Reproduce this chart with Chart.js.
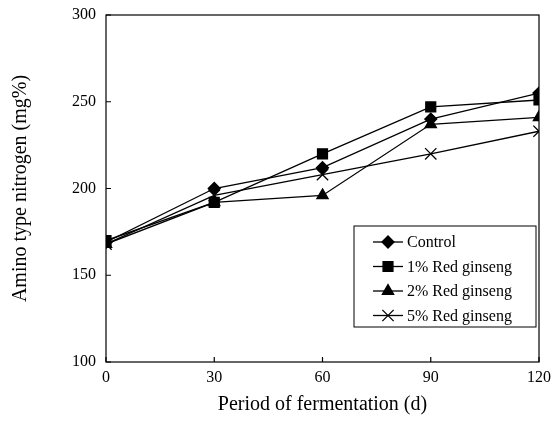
<!DOCTYPE html>
<html>
<head>
<meta charset="utf-8">
<script src="https://cdn.jsdelivr.net/npm/chart.js@4"></script>
<style>
  body { margin: 0; background: #fff; }
  #wrap { width: 554px; height: 437px; }
</style>
</head>
<body>
<div id="wrap"><canvas id="chart"></canvas></div>
<script>
const days = [0, 30, 60, 90, 120];
const seriesNames = ['Control', '1% Red ginseng', '2% Red ginseng', '5% Red ginseng'];
const control = [169, 200, 212, 240, 255];
const redGinseng1 = [170, 192, 220, 247, 251];
const redGinseng2 = [168, 192, 196, 237, 241];
const redGinseng5 = [168, 196, 208, 220, 233];
const yTicks = [100, 150, 200, 250, 300];

const serif = '"Liberation Serif", "Times New Roman", serif';

const styles = [
  { pointStyle: 'rectRot', pointRadius: 6 },
  { pointStyle: 'rect', pointRadius: 7 },
  { pointStyle: 'triangle', pointRadius: 6.5 },
  { pointStyle: 'crossRot', pointRadius: 8 }
];

const datasets = [control, redGinseng1, redGinseng2, redGinseng5].map((vals, i) => ({
  label: seriesNames[i],
  data: days.map((d, j) => ({ x: d, y: vals[j] })),
  borderColor: '#000',
  backgroundColor: '#000',
  borderWidth: 1.3,
  pointBorderWidth: 1.3,
  pointStyle: styles[i].pointStyle,
  pointRadius: styles[i].pointRadius,
  tension: 0
}));

// frame, inward ticks and the boxed legend
const framePlugin = {
  id: 'frame',
  afterDraw(chart) {
    const { ctx, chartArea: a, scales: { x, y } } = chart;
    ctx.save();
    ctx.strokeStyle = '#000';
    ctx.lineWidth = 1.2;
    ctx.strokeRect(a.left, a.top, a.right - a.left, a.bottom - a.top);
    ctx.beginPath();
    yTicks.forEach(v => {
      const py = y.getPixelForValue(v);
      ctx.moveTo(a.left, py);
      ctx.lineTo(a.left + 5, py);
    });
    days.forEach(v => {
      const px = x.getPixelForValue(v);
      ctx.moveTo(px, a.bottom);
      ctx.lineTo(px, a.bottom - 5);
    });
    ctx.stroke();

    // legend
    const box = { left: a.right - 185, top: a.bottom - 136, w: 182, h: 101 };
    ctx.fillStyle = '#fff';
    ctx.fillRect(box.left, box.top, box.w, box.h);
    ctx.lineWidth = 1;
    ctx.strokeRect(box.left, box.top, box.w, box.h);
    ctx.font = '16px ' + serif;
    ctx.textBaseline = 'middle';
    chart.data.datasets.forEach((ds, i) => {
      const cy = box.top + 16 + i * 24.5;
      const x0 = box.left + 19, x1 = box.left + 49;
      ctx.beginPath();
      ctx.lineWidth = 1.3;
      ctx.moveTo(x0, cy);
      ctx.lineTo(x1, cy);
      ctx.stroke();
      ctx.fillStyle = '#000';
      Chart.helpers.drawPoint(ctx, {
        pointStyle: ds.pointStyle,
        radius: ds.pointRadius,
        borderWidth: 1.3
      }, (x0 + x1) / 2, cy);
      ctx.fillText(ds.label, x1 + 4, cy + 1);
    });
    ctx.restore();
  }
};

new Chart(document.getElementById('chart'), {
  type: 'line',
  data: { datasets },
  options: {
    responsive: true,
    maintainAspectRatio: false,
    animation: false,
    layout: { padding: { top: 15, right: 15, left: 0, bottom: 0 } },
    plugins: { legend: { display: false }, tooltip: { enabled: false } },
    scales: {
      x: {
        type: 'linear',
        min: 0,
        max: 120,
        afterFit(scale) {
          scale.height = 75;
          scale.paddingLeft = 0;
          scale.paddingRight = 0;
        },
        afterBuildTicks(scale) { scale.ticks = days.map(v => ({ value: v })); },
        grid: { display: false, drawTicks: false },
        border: { display: false },
        ticks: { color: '#000', font: { family: serif, size: 16 }, padding: 6, maxRotation: 0 },
        title: {
          display: true,
          text: 'Period of fermentation (d)',
          color: '#000',
          font: { family: serif, size: 20 },
          padding: { top: 4, bottom: 20 }
        }
      },
      y: {
        min: 100,
        max: 300,
        afterFit(scale) {
          scale.width = 106;
          scale.paddingTop = 0;
          scale.paddingBottom = 0;
        },
        afterBuildTicks(scale) { scale.ticks = yTicks.map(v => ({ value: v })); },
        grid: { display: false, drawTicks: false },
        border: { display: false },
        ticks: { color: '#000', font: { family: serif, size: 16 }, padding: 10 },
        title: {
          display: true,
          text: 'Amino type nitrogen (mg%)',
          color: '#000',
          font: { family: serif, size: 20 },
          padding: { top: 9, bottom: 4 }
        }
      }
    }
  },
  plugins: [framePlugin]
});
</script>
</body>
</html>
